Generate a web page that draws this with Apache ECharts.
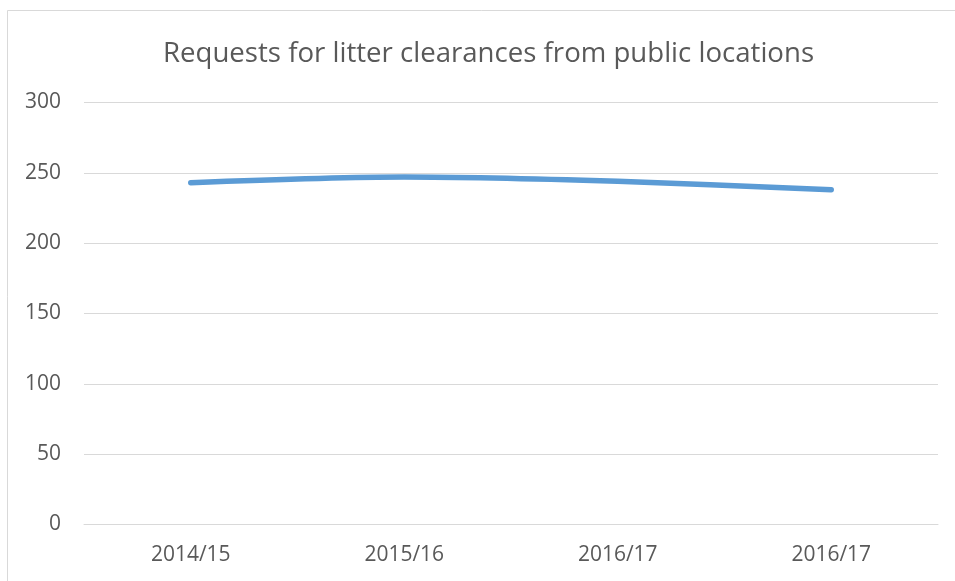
<!DOCTYPE html>
<html>
<head>
<meta charset="utf-8">
<script src="https://cdn.jsdelivr.net/npm/echarts@6/dist/echarts.min.js"></script>
<style>html,body{margin:0;padding:0;background:#fff}#c{width:955px;height:581px}</style>
</head>
<body>
<div id="c"></div>
<script>
const titleText = 'Requests for litter clearances from public locations';
const categories = ['2014/15', '2015/16', '2016/17', '2016/17'];
const requests = [243, 247, 244, 238];
const yTicks = { min: 0, max: 300, interval: 50 };

const chart = echarts.init(document.getElementById('c'), null, { renderer: 'canvas' });
chart.setOption({
  animation: false,
  backgroundColor: '#ffffff',
  graphic: [{
    type: 'rect', silent: true,
    shape: { x: 7.5, y: 10.5, width: 1000, height: 700 },
    style: { fill: 'none', stroke: '#d9d9d9', lineWidth: 1 }
  }],
  title: {
    text: titleText, left: 158, top: 35,
    textStyle: { fontFamily: 'Open Sans', fontSize: 27.6, fontWeight: 'normal', color: '#595959' }
  },
  grid: { left: 84, right: 17, top: 102.5, bottom: 56.5, containLabel: false },
  xAxis: {
    type: 'category', data: categories, boundaryGap: true,
    axisLine: { lineStyle: { color: '#d9d9d9', width: 1 } },
    axisTick: { show: false },
    axisLabel: { fontFamily: 'Open Sans', fontSize: 21, color: '#595959', margin: 20, interval: 0 }
  },
  yAxis: {
    type: 'value', min: yTicks.min, max: yTicks.max, interval: yTicks.interval,
    axisLine: { show: false }, axisTick: { show: false },
    splitLine: { lineStyle: { color: '#d9d9d9', width: 1 } },
    axisLabel: { fontFamily: 'Open Sans', fontSize: 21, color: '#595959', margin: 23 }
  },
  series: [{
    type: 'line', data: requests, smooth: 0.3, showSymbol: false, symbol: 'none',
    lineStyle: { color: '#5B9BD5', width: 5.5, cap: 'round', join: 'round' }
  }]
});
</script>
</body>
</html>
